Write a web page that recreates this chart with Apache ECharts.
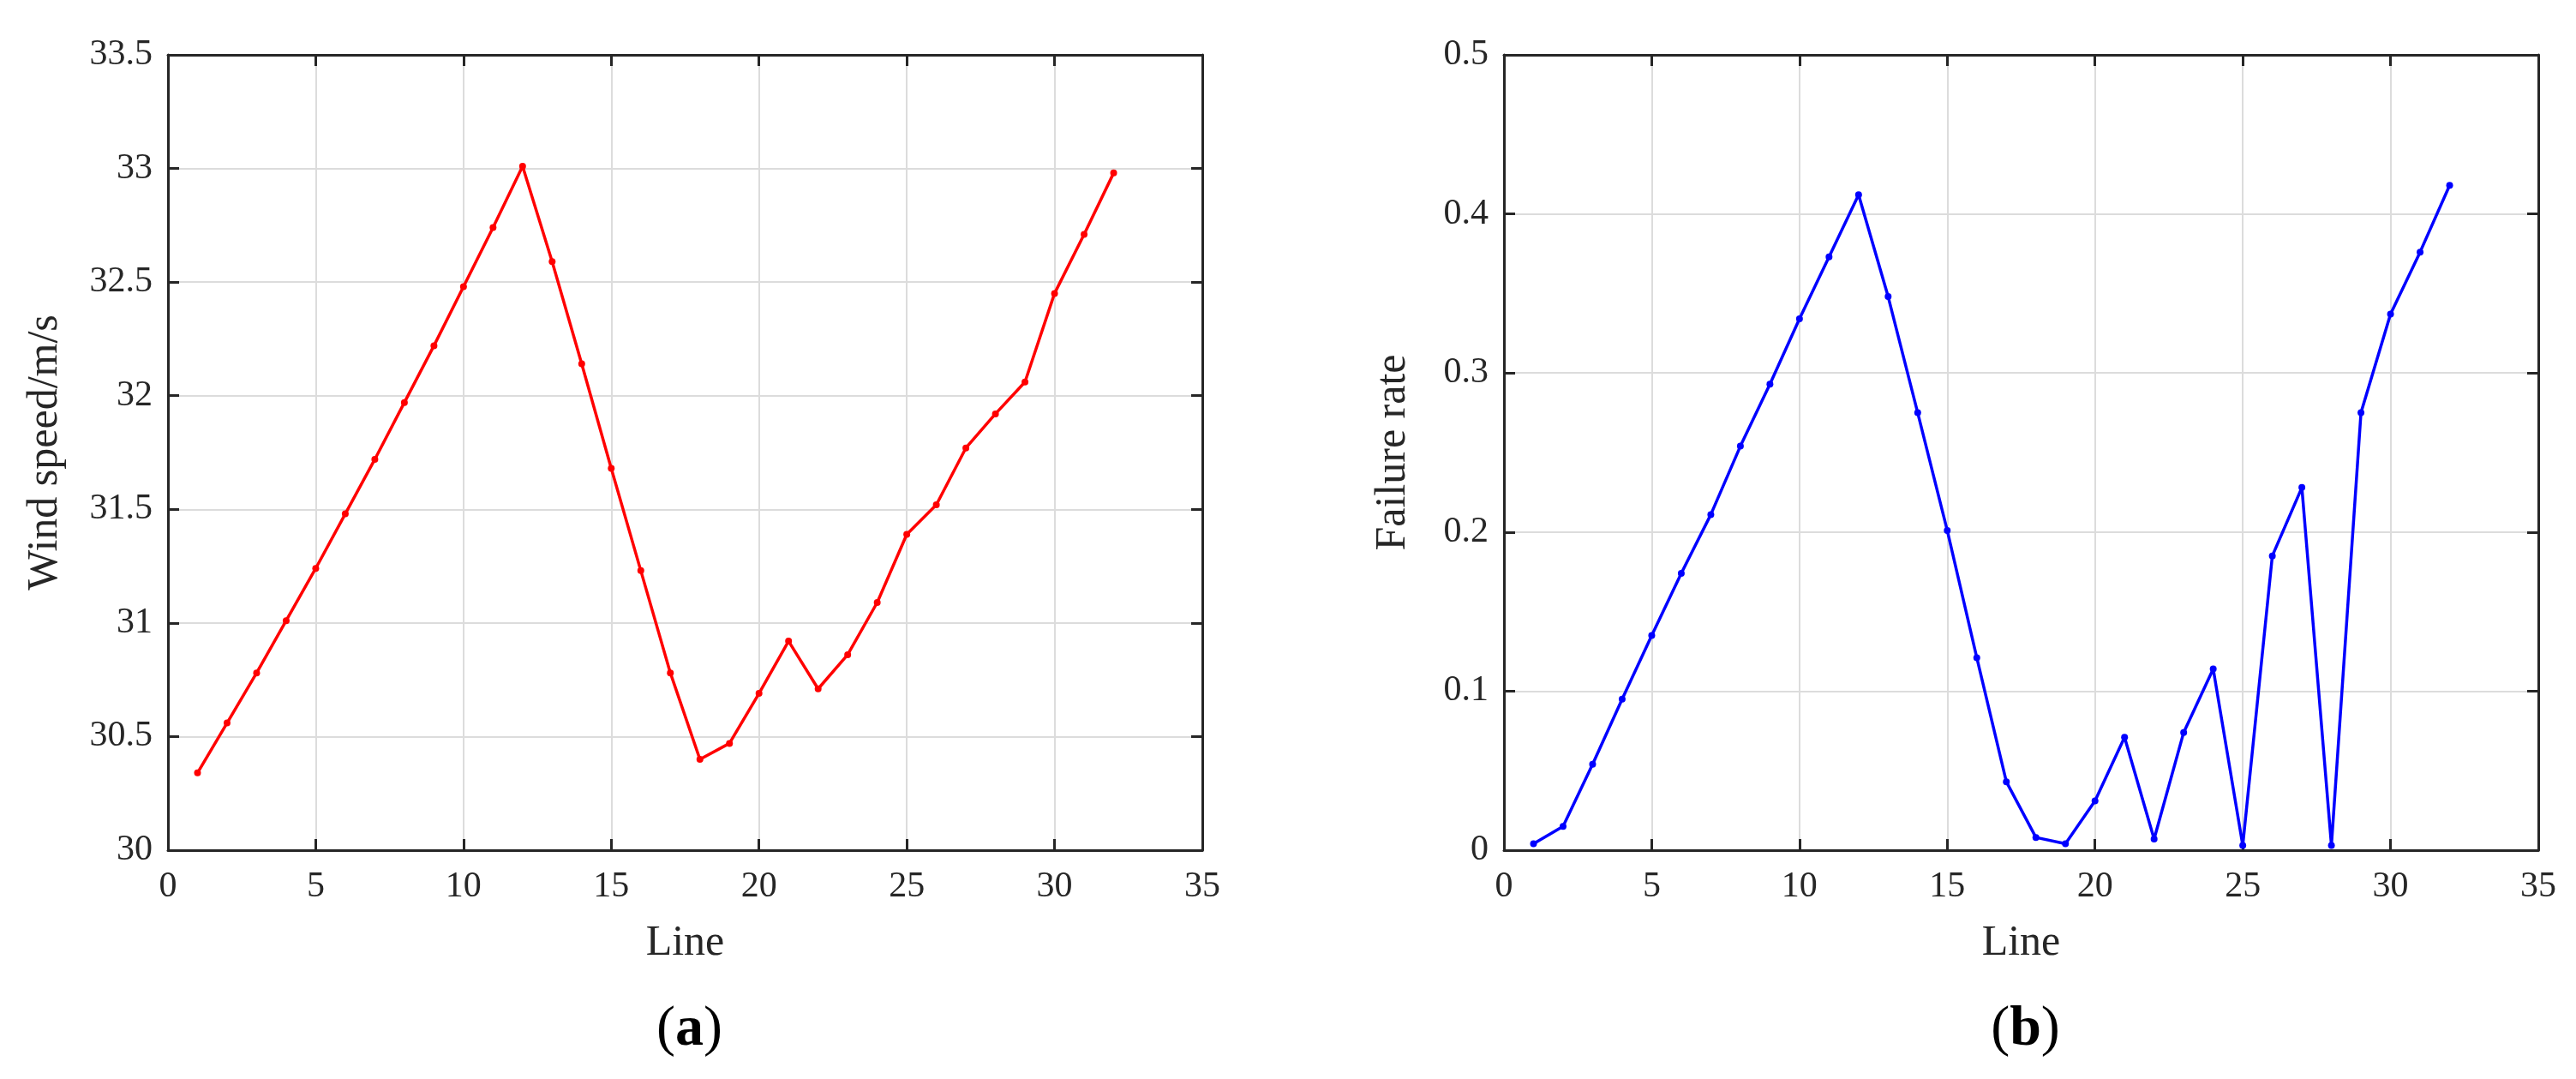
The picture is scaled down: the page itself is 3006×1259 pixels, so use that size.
<!DOCTYPE html>
<html>
<head>
<meta charset="utf-8">
<script src="https://cdn.jsdelivr.net/npm/echarts@6/dist/echarts.min.js"></script>
<style>
html,body{margin:0;padding:0;background:#fff;}
#chart{width:3006px;height:1259px;}
</style>
</head>
<body>
<div id="chart"></div>
<script>
// ---- data ----
const lines = [1,2,3,4,5,6,7,8,9,10,11,12,13,14,15,16,17,18,19,20,21,22,23,24,25,26,27,28,29,30,31,32];
const windSpeed = [30.34,30.56,30.78,31.01,31.24,31.48,31.72,31.97,32.22,32.48,32.74,33.01,32.59,32.14,31.68,31.23,30.78,30.40,30.47,30.69,30.92,30.71,30.86,31.09,31.39,31.52,31.77,31.92,32.06,32.45,32.71,32.98];
const failureRate = [0.004,0.015,0.054,0.095,0.135,0.174,0.211,0.254,0.293,0.334,0.373,0.412,0.348,0.275,0.201,0.121,0.043,0.008,0.004,0.031,0.071,0.007,0.074,0.114,0.003,0.185,0.228,0.003,0.275,0.337,0.376,0.418];
const xTicks = {min:0, max:35, interval:5};
const windTicks = {min:30, max:33.5, interval:0.5};
const rateTicks = {min:0, max:0.5, interval:0.1};
const panelLabels = ['a','b'];
const xName = 'Line';
const yNames = ['Wind speed/m/s','Failure rate'];

// ---- styles ----
const FONT = '"Liberation Serif","Times New Roman",serif';
const AX = '#262626';
const GRID = '#dcdcdc';

const chart = echarts.init(document.getElementById('chart'), null, {renderer:'canvas'});

const grids = [
  {left:196, top:64, width:1207, height:928},
  {left:1755, top:64, width:1207, height:928}
];

function mkX(gi, pos, withLabels){
  return {
    type:'value', gridIndex:gi, position:pos, min:xTicks.min, max:xTicks.max, interval:xTicks.interval,
    name: withLabels ? xName : '', nameLocation:'middle', nameGap:84,
    nameTextStyle:{fontFamily:FONT, fontSize:50, color:AX},
    axisLine:{show:true, onZero:false, lineStyle:{color:AX, width:3}},
    axisTick:{show:true, inside:true, length:13, lineStyle:{color:AX, width:3}},
    axisLabel:{show:withLabels, margin:22, fontFamily:FONT, fontSize:42, color:AX},
    splitLine:{show:withLabels, lineStyle:{color:GRID, width:2}}
  };
}
function mkY(gi, pos, withLabels, ticks, name, gap){
  return {
    type:'value', gridIndex:gi, position:pos, min:ticks.min, max:ticks.max, interval:ticks.interval,
    name: withLabels ? name : '', nameLocation:'middle', nameGap:gap,
    nameTextStyle:{fontFamily:FONT, fontSize:50, color:AX},
    axisLine:{show:true, onZero:false, lineStyle:{color:AX, width:3}},
    axisTick:{show:true, inside:true, length:13, lineStyle:{color:AX, width:3}},
    axisLabel:{show:withLabels, margin:18, fontFamily:FONT, fontSize:42, color:AX},
    splitLine:{show:withLabels, lineStyle:{color:GRID, width:2}}
  };
}

const option = {
  backgroundColor:'#ffffff',
  animation:false,
  grid: grids,
  title: panelLabels.map((p,i)=>({
    text:'{p|(}{b|'+p+'}{p|)}',
    left: grids[i].left + grids[i].width/2,
    top: 1164,
    textAlign:'center',
    textStyle:{
      fontWeight:'normal',
      rich:{
        p:{fontFamily:FONT, fontSize:66, fontWeight:'normal', color:'#000'},
        b:{fontFamily:FONT, fontSize:66, fontWeight:'bold', color:'#000'}
      }
    }
  })),
  xAxis:[
    mkX(0,'bottom',true), mkX(0,'top',false),
    mkX(1,'bottom',true), mkX(1,'top',false)
  ],
  yAxis:[
    mkY(0,'left',true,windTicks,yNames[0],118), mkY(0,'right',false,windTicks,'',0),
    mkY(1,'left',true,rateTicks,yNames[1],104), mkY(1,'right',false,rateTicks,'',0)
  ],
  series:[
    {
      type:'line', xAxisIndex:0, yAxisIndex:0,
      data: lines.map((x,i)=>[x, windSpeed[i]]),
      symbol:'circle', symbolSize:8, showSymbol:true,
      lineStyle:{color:'#ff0000', width:3.5},
      itemStyle:{color:'#ff0000'}
    },
    {
      type:'line', xAxisIndex:2, yAxisIndex:2,
      data: lines.map((x,i)=>[x, failureRate[i]]),
      symbol:'circle', symbolSize:8, showSymbol:true,
      lineStyle:{color:'#0000ff', width:3.5},
      itemStyle:{color:'#0000ff'}
    }
  ]
};
chart.setOption(option);
</script>
</body>
</html>
